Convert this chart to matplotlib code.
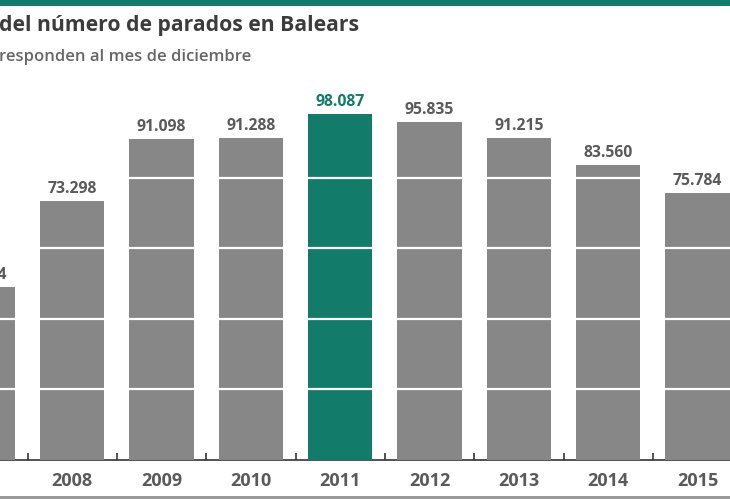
import matplotlib
matplotlib.use("Agg")
import matplotlib.pyplot as plt
from matplotlib.patches import Rectangle

years = ["2007", "2008", "2009", "2010", "2011", "2012", "2013", "2014", "2015"]
values = [49134, 73298, 91098, 91288, 98087, 95835, 91215, 83560, 75784]
labels = ["49.134", "73.298", "91.098", "91.288", "98.087", "95.835", "91.215", "83.560", "75.784"]
highlight = "2011"
gridvals = [20000, 40000, 60000, 80000]

title = "del número de parados en Balears"
subtitle = "responden al mes de diciembre"

GRAY = "#878787"
GREEN = "#137b69"
TXT = "#5a5a5a"

plt.rcParams['font.family'] = ['Open Sans', 'DejaVu Sans']

fig = plt.figure(figsize=(7.3, 5.0), dpi=100)
ax = fig.add_axes([0, 40/500, 1, 352.7/500])

x = list(range(len(years)))
colors = [GREEN if y == highlight else GRAY for y in years]
ax.bar(x, values, width=0.72, color=colors, zorder=2)
for g in gridvals:
    ax.axhline(g, color="white", lw=1.6, zorder=3)

for xi, v, lab, y in zip(x, values, labels, years):
    c = GREEN if y == highlight else TXT
    ax.annotate(lab, (xi, v), xytext=(0, 3), textcoords="offset points",
                ha="center", va="bottom", fontsize=11.3, fontweight="bold",
                color=c, annotation_clip=False, clip_on=False)

ax.set_xticks(x)
ax.set_xticklabels(years, fontsize=13, fontweight="bold", color=TXT)
ax.tick_params(axis="x", which="major", length=0, pad=8.5)
ax.set_xticks([i + 0.5 for i in x[:-1]], minor=True)
ax.tick_params(axis="x", which="minor", direction="in", length=5, width=1.2, color="#333333")
ax.set_yticks([])
ax.set_xlim(0.192, 8.362)
ax.set_ylim(0, 100000)
for s in ["top", "left", "right"]:
    ax.spines[s].set_visible(False)
ax.spines["bottom"].set_color("#333333")
ax.spines["bottom"].set_linewidth(1.2)
ax.spines["bottom"].set_zorder(1)

fig.add_artist(Rectangle((0, 1 - 6/500), 1, 6/500, transform=fig.transFigure,
                         color=GREEN, lw=0))
fig.add_artist(Rectangle((0, 1/500), 1, 3/500, transform=fig.transFigure,
                         color="#9a9a9a", lw=0))

fig.text(-0.002, 1 - 25/500, title, fontsize=15.2, fontweight="bold",
         color="#3c3c3c", ha="left", va="center")
fig.text(-0.002, 1 - 57/500, subtitle, fontsize=12, fontweight="semibold",
         color="#666666", ha="left", va="center")

fig.savefig("out.png", dpi=100, facecolor="white")
